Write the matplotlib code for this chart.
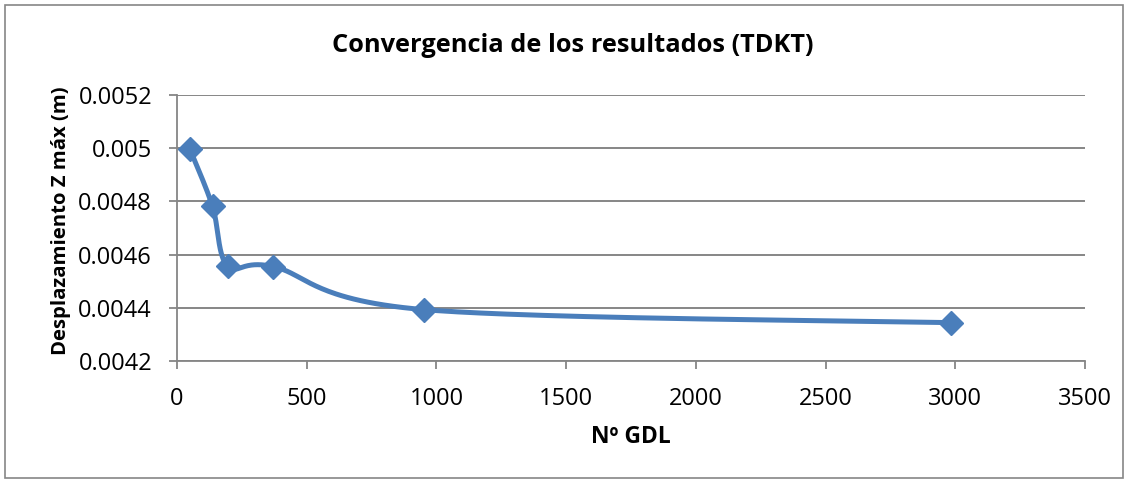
import numpy as np
import matplotlib
matplotlib.use("Agg")
import matplotlib.pyplot as plt
from matplotlib.patches import Rectangle

# Data
gdl = [50, 137, 195, 371, 954, 2982]
desplazamiento = [0.004996, 0.004781, 0.004557, 0.004555, 0.004393, 0.004344]
title = "Convergencia de los resultados (TDKT)"
xlabel = "Nº GDL"
ylabel = "Desplazamiento Z máx (m)"
xticks = [0, 500, 1000, 1500, 2000, 2500, 3000, 3500]
yticks = [0.0042, 0.0044, 0.0046, 0.0048, 0.0050, 0.0052]
ytick_labels = ["0.0042", "0.0044", "0.0046", "0.0048", "0.005", "0.0052"]

FONT = ["Open Sans", "DejaVu Sans"]
plt.rcParams['font.family'] = FONT

fig = plt.figure(figsize=(11.29, 4.79), dpi=100)
ax = fig.add_axes([177/1129, 1-361/479, (1085-177)/1129, (361-95)/479])

ax.set_xlim(0, 3500)
ax.set_ylim(0.0042, 0.0052)
ax.set_xticks(xticks)
ax.set_yticks(yticks)
ax.set_yticklabels(ytick_labels)
ax.tick_params(axis='both', labelsize=17, color='#868686', width=1.3, length=6, direction='out')
ax.tick_params(axis='x', pad=13)
ax.tick_params(axis='y', pad=12)
ax.grid(axis='y', color='#868686', linewidth=1.4)
ax.set_axisbelow(True)
for s in ['top', 'right']:
    ax.spines[s].set_visible(False)
for s in ['left', 'bottom']:
    ax.spines[s].set_color('#868686')
    ax.spines[s].set_linewidth(1.3)

# Excel-like smoothed line (Catmull-Rom Bezier in pixel space)
fig.canvas.draw()
pts = ax.transAxes.inverted().transform(ax.transData.transform(np.column_stack([gdl, desplazamiento])))
bbox = ax.get_window_extent()
W, H = bbox.width, bbox.height
P = pts * np.array([W, H])
n = len(P)
curve = []
for i in range(n - 1):
    p0 = P[i - 1] if i > 0 else P[i]
    p1 = P[i]
    p2 = P[i + 1]
    p3 = P[i + 2] if i + 2 < n else P[i + 1]
    c1 = p1 + (p2 - p0) / 6.0
    c2 = p2 - (p3 - p1) / 6.0
    t = np.linspace(0, 1, 60)[:, None]
    seg = (1 - t) ** 3 * p1 + 3 * (1 - t) ** 2 * t * c1 + 3 * (1 - t) * t ** 2 * c2 + t ** 3 * p2
    curve.append(seg if i == 0 else seg[1:])
curve = np.vstack(curve) / np.array([W, H])
curve_data = ax.transData.inverted().transform(ax.transAxes.transform(curve))
ax.plot(curve_data[:, 0], curve_data[:, 1], color='#4A7EBB', linewidth=3.6,
        solid_capstyle='round', zorder=3)
ax.plot(gdl, desplazamiento, linestyle='none', marker='D', markersize=12,
        color='#4A7EBB', zorder=4)

fig.text(573 / 1129, 1 - 45 / 479, title, ha='center', va='center',
         fontsize=18.3, fontweight='bold')
fig.text(631 / 1129, 1 - 437 / 479, xlabel, ha='center', va='center',
         fontsize=16.5, fontweight='bold')
fig.text(61 / 1129, 1 - 221 / 479, ylabel, ha='center', va='center',
         rotation=90, fontsize=14.6, fontweight='bold')

fig.patches.append(Rectangle((5 / 1129, 0.002), (1123 - 5) / 1129, 1 - 5 / 479 - 0.002,
                             transform=fig.transFigure, fill=False,
                             edgecolor='#868686', linewidth=1.2))

fig.savefig("out.png", dpi=100)
